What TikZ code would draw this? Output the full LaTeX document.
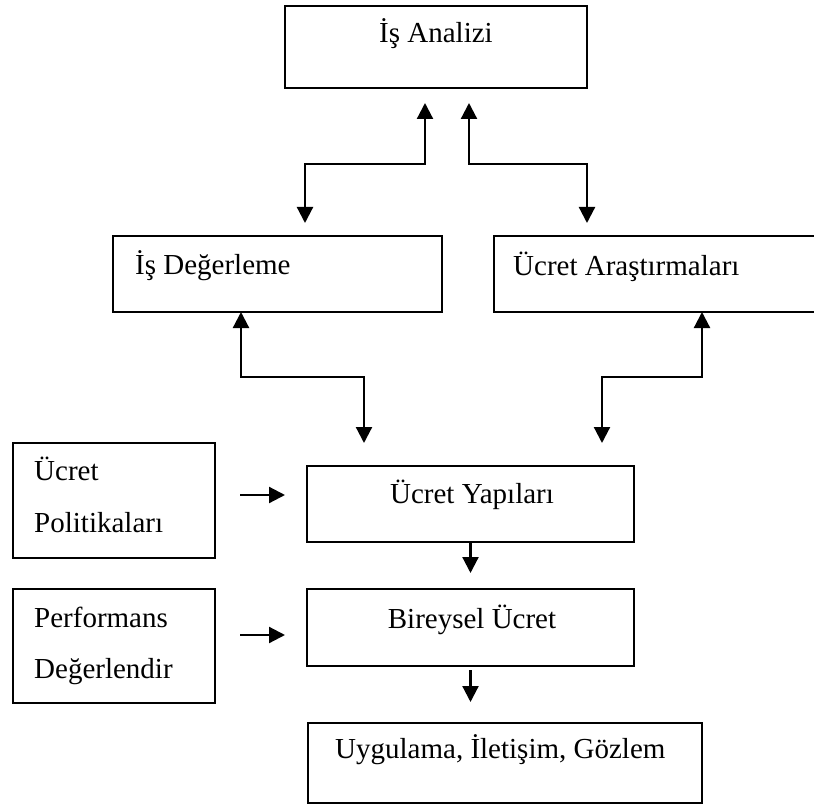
\documentclass[tikz,border=0pt]{standalone}
\usepackage{fontspec}
\setmainfont{Liberation Serif}
\usetikzlibrary{positioning, arrows.meta}

\tikzset{
  kutu/.style={draw, line width=2pt, inner sep=0pt, outer sep=0pt},
  yazi/.style={inner sep=0pt, font=\fontsize{29}{35}\selectfont},
  ok/.style={line width=2.2pt, -{Triangle[length=16pt,width=16pt]}},
  cift/.style={line width=2.2pt, {Triangle[length=16pt,width=16pt]}-{Triangle[length=16pt,width=16pt]}},
}

\begin{document}
\begin{tikzpicture}[x=1pt, y=-1pt]
  \useasboundingbox (0,0) rectangle (814,805);

  % Is Analizi
  \node [kutu, minimum width=302pt, minimum height=82pt] (IsAn) at (436,47) {};%
  \node [yazi, anchor=base] (IsAn_t) at (436,43) {İş Analizi};%

  % Is Degerleme
  \node [kutu, minimum width=329pt, minimum height=76pt] (IsDeg) at (277.5,274) {};%
  \node [yazi, anchor=base west] (IsDeg_t) at (135,274) {İş Değerleme};%

  % Ucret Arastirmalari
  \node [kutu, minimum width=324pt, minimum height=76pt] (UcretAr) at (656,274) {};%
  \node [yazi, anchor=base west] (UcretAr_t) at (513,275) {Ücret Araştırmaları};%

  % Ucret Politikalari
  \node [kutu, minimum width=202pt, minimum height=115pt] (UcretPol) at (114,500.5) {};%
  \node [yazi, anchor=base west] (UcretPol_t1) at (34,480) {Ücret};%
  \node [yazi, anchor=base west] (UcretPol_t2) at (34,532) {Politikaları};%

  % Ucret Yapilari
  \node [kutu, minimum width=327pt, minimum height=76pt] (UcretYap) at (470.5,504) {};%
  \node [yazi, anchor=base] (UcretYap_t) at (472,503) {Ücret Yapıları};%

  % Performans
  \node [kutu, minimum width=202pt, minimum height=114pt] (Perf) at (114,646) {};%
  \node [yazi, anchor=base west] (Perf_t1) at (34,627) {Performans};%
  \node [yazi, anchor=base west] (Perf_t2) at (34,678) {Değerlendir};%

  % Bireysel Ucret
  \node [kutu, minimum width=327pt, minimum height=77pt] (Bireysel) at (470.5,627.5) {};%
  \node [yazi, anchor=base] (Bireysel_t) at (472,628) {Bireysel Ücret};%

  % Uygulama
  \node [kutu, minimum width=394pt, minimum height=80pt] (Uygulama) at (505,763) {};%
  \node [yazi, anchor=base west] (Uygulama_t) at (335,758) {Uygulama, İletişim, Gözlem};%

  % arrows
  \draw [cift] ([xshift=-11pt, yshift=-15pt]IsAn.south) -- ++(0,61) -|
  ([xshift=27.5pt, yshift=13pt]IsDeg.north);%
  \draw [cift] ([xshift=33pt, yshift=-15pt]IsAn.south) -- ++(0,61) -|
  ([xshift=-69pt, yshift=13pt]UcretAr.north);%
  \draw [cift] ([xshift=-36.5pt]IsDeg.south) -- ++(0,65) -|
  ([xshift=-106.5pt, yshift=23pt]UcretYap.north);%
  \draw [cift] ([xshift=46pt]UcretAr.south) -- ++(0,65) -|
  ([xshift=131.5pt, yshift=23pt]UcretYap.north);%
  \draw [ok] ([xshift=25pt, yshift=5.5pt]UcretPol.east) -- ([xshift=-22pt,
  yshift=9pt]UcretYap.west);%
  \draw [ok] ([xshift=25pt, yshift=11pt]Perf.east) -- ([xshift=-22pt,
  yshift=-7.5pt]Bireysel.west);%
  \draw [ok] (UcretYap.south) -- ([yshift=16pt]Bireysel.north);%
  \draw [ok] ([yshift=-4pt]Bireysel.south) -- ([xshift=-34.5pt,
  yshift=21pt]Uygulama.north);%
\end{tikzpicture}
\end{document}
